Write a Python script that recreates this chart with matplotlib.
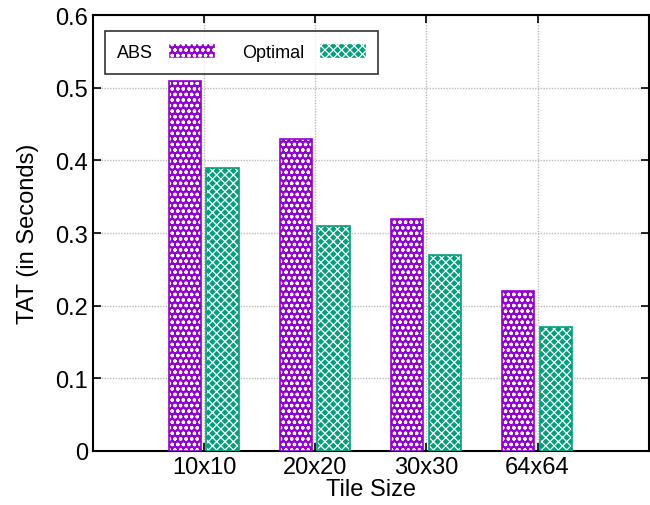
import numpy as np
import matplotlib
matplotlib.use("Agg")
import matplotlib.pyplot as plt
from matplotlib.patches import Patch

tiles = ["10x10", "20x20", "30x30", "64x64"]
abs_tat = [0.51, 0.43, 0.32, 0.22]
optimal_tat = [0.39, 0.31, 0.27, 0.17]

purple = "#9400d3"
green = "#00a07a"

plt.rcParams["font.family"] = ["Liberation Sans", "DejaVu Sans"]
plt.rcParams["hatch.linewidth"] = 0.9

fig = plt.figure(figsize=(6.5, 5.06), dpi=100)
ax = fig.add_axes([0.143, 0.107, 0.855, 0.861])

x = np.arange(1, len(tiles) + 1)
w = 0.29

# filled bars with white pattern, then coloured outline on top
ax.bar(x - 0.175, abs_tat, w, color=purple, edgecolor="white", hatch="ooo", linewidth=0, zorder=3)
ax.bar(x - 0.175, abs_tat, w, fill=False, edgecolor=purple, linewidth=1.2, zorder=4)
ax.bar(x + 0.165, optimal_tat, w, color=green, edgecolor="white", hatch="xxxx", linewidth=0, zorder=3)
ax.bar(x + 0.165, optimal_tat, w, fill=False, edgecolor=green, linewidth=1.2, zorder=4)

# legend: label first, then sample (gnuplot style)
h1 = Patch(facecolor=purple, edgecolor="white", hatch="ooo", label="ABS")
h2 = Patch(facecolor=green, edgecolor="white", hatch="xxxx", label="Optimal")
leg = ax.legend(handles=[h1, h2], loc="upper left", ncol=2, markerfirst=False,
                fontsize=13, frameon=True, fancybox=False, edgecolor="black",
                handlelength=2.6, handleheight=0.9, columnspacing=1.5,
                borderpad=0.7, bbox_to_anchor=(0.005, 0.985))
leg.get_frame().set_linewidth(1.2)

ax.set_xlim(0, 5)
ax.set_ylim(0, 0.6)
ax.set_xticks(x)
ax.set_xticklabels(tiles)
ax.set_yticks(np.arange(0, 0.61, 0.1))
ax.set_yticklabels(["0", "0.1", "0.2", "0.3", "0.4", "0.5", "0.6"])
ax.tick_params(direction="in", labelsize=17, top=True, right=True, length=6, width=1.2)
ax.grid(True, color="#bbbbbb", linestyle=(0, (1, 1)), linewidth=1.0, zorder=0)
ax.set_axisbelow(True)
for s in ax.spines.values():
    s.set_linewidth(1.5)

ax.set_xlabel("Tile Size", fontsize=17, labelpad=0)
ax.set_ylabel("TAT (in Seconds)", fontsize=17, labelpad=12)

fig.savefig("out.png", dpi=100)
